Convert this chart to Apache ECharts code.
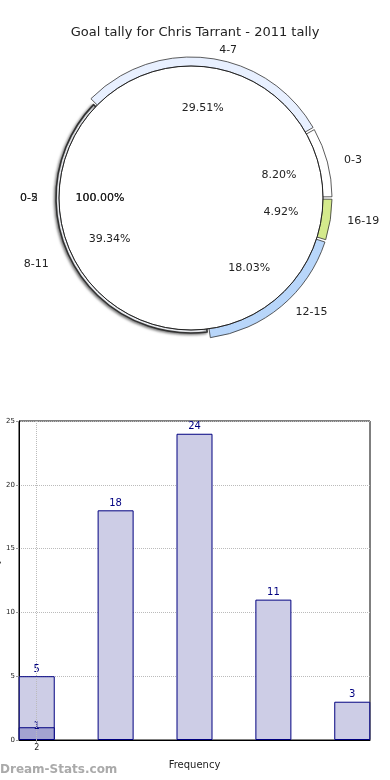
<!DOCTYPE html>
<html><head><meta charset="utf-8">
<script src="https://cdn.jsdelivr.net/npm/echarts@6/dist/echarts.min.js"></script>
<style>html,body{margin:0;padding:0;background:#fff}#c{width:390px;height:780px}</style>
</head><body><div id="c"></div>
<script>
var titleText = 'Goal tally for Chris Tarrant - 2011 tally';
var pieNames = ['0-3', '4-7', '8-11', '12-15', '16-19'];
var pieValues = [5, 18, 24, 11, 3];
var pieColors = ['#ffffff', '#e8f0ff', '#ffffff', '#b8d6fa', '#d4ea8c'];
var innerNamesA = ['0-5'];
var innerValuesA = [1];
var innerNamesB = ['0-2'];
var innerValuesB = [1];
var barX = [2, 6, 10, 14, 18];
var barValues = [5, 18, 24, 11, 3];
var overlayX = [2];
var overlayValues = [1];
var xTickLabels = [2];

var chart = echarts.init(document.getElementById('c'));
var C = ['191', '198'];
var FONT = 'DejaVu Sans';
var TRANSPARENT = 'rgba(0,0,0,0)';
function pieData(names, vals, colors) {
  return names.map(function (n, i) {
    var d = { name: n, value: vals[i] };
    if (colors) d.itemStyle = { color: colors[i] };
    return d;
  });
}
function pctLabel(names, vals, z) {
  return {
    type: 'pie', center: C, radius: [0, 176], startAngle: 0, clockwise: false,
    silent: true, z: z, avoidLabelOverlap: false, labelLayout: { hideOverlap: false },
    itemStyle: { color: TRANSPARENT, borderWidth: 0 },
    label: { show: true, position: 'inner', color: '#222', fontSize: 11, fontFamily: FONT,
      formatter: function (p) { return p.percent.toFixed(2) + '%'; } },
    labelLine: { show: false },
    emphasis: { disabled: true },
    data: pieData(names, vals)
  };
}
var outerData = pieData(pieNames, pieValues, pieColors);
outerData[2].itemStyle = { color: TRANSPARENT, borderWidth: 0 };
var leftData = pieData(pieNames, pieValues).map(function (d, i) {
  d.itemStyle = i === 2
    ? { color: '#f4f6fa', borderColor: '#333', borderWidth: 1.6,
        shadowColor: 'rgba(0,0,0,0.55)', shadowBlur: 3, shadowOffsetX: -1, shadowOffsetY: 1 }
    : { color: TRANSPARENT, borderWidth: 0 };
  return d;
});

chart.setOption({
  animation: false,
  title: { text: titleText, left: 'center', top: 21,
    textStyle: { fontSize: 13, fontWeight: 'normal', color: '#222', fontFamily: FONT } },
  grid: { left: 19, right: 20, top: 421, bottom: 40, show: true, borderColor: '#000', borderWidth: 1,
    containLabel: false, outerBoundsMode: 'none' },
  xAxis: {
    type: 'value', min: 1.1, max: 18.9,
    name: 'Frequency', nameLocation: 'middle', nameGap: 20, nameMoveOverlap: false,
    nameTextStyle: { fontSize: 10, color: '#222', fontFamily: FONT },
    axisLine: { show: true, lineStyle: { color: '#000' } },
    axisTick: { show: true, length: 3, customValues: xTickLabels, lineStyle: { color: '#999' } },
    axisLabel: { customValues: xTickLabels, fontSize: 8, color: '#222', margin: 4, fontFamily: FONT },
    splitLine: { show: false }
  },
  yAxis: {
    type: 'value', min: 0, max: 25, interval: 5,
    name: 'Goal Tally', nameLocation: 'middle', nameGap: 18, nameMoveOverlap: false,
    nameTextStyle: { fontSize: 9, color: '#222', fontFamily: FONT },
    axisLine: { show: true, lineStyle: { color: '#000' } },
    axisTick: { show: true, length: 3, lineStyle: { color: '#999' } },
    axisLabel: { fontSize: 7, color: '#222', margin: 4, fontFamily: FONT },
    splitLine: { show: true, lineStyle: { color: '#bbb', type: 'dotted', width: 1 } }
  },
  graphic: [{ type: 'text', left: 0, top: 764,
    style: { text: 'Dream-Stats.com', fontSize: 12, fontWeight: 'bold', fill: '#aaa', fontFamily: FONT } }],
  series: [
    {
      type: 'bar', data: barX.map(function (x, i) { return [x, barValues[i]]; }),
      barWidth: 36, barGap: '-100%',
      itemStyle: { color: '#cdcde6', borderColor: '#000080', borderWidth: 1 },
      label: { show: true, position: 'top', color: '#000080', fontSize: 10, distance: 2, fontFamily: FONT },
      markLine: { silent: true, symbol: 'none', label: { show: false },
        lineStyle: { color: '#bbb', type: 'dotted', width: 1 },
        data: [{ xAxis: xTickLabels[0] }] },
      z: 2
    },
    {
      type: 'bar', data: overlayX.map(function (x, i) { return [x, overlayValues[i]]; }),
      barWidth: 36, barGap: '-100%',
      itemStyle: { color: '#a3a3d1', borderColor: '#000080', borderWidth: 1 },
      label: { show: true, position: 'top', color: '#000080', fontSize: 10, distance: -4, fontFamily: FONT },
      z: 3
    },
    {
      type: 'pie', center: C, radius: [0, 141], startAngle: 0, clockwise: false,
      padAngle: 1, avoidLabelOverlap: false, silent: true, z: 2, labelLayout: { hideOverlap: false },
      itemStyle: { borderColor: '#333', borderWidth: 0.8 },
      label: { show: true, position: 'outside', color: '#222', fontSize: 11, fontFamily: FONT, formatter: '{b}' },
      labelLine: { show: false, length: 8, length2: 4 },
      emphasis: { disabled: true },
      data: outerData
    },
    {
      type: 'pie', center: C, radius: [0, 135], startAngle: 0, clockwise: false,
      padAngle: 1, avoidLabelOverlap: false, silent: true, z: 2,
      label: { show: false }, labelLine: { show: false },
      emphasis: { disabled: true },
      data: leftData
    },
    {
      type: 'pie', center: C, radius: [0, 132], startAngle: 0, clockwise: false,
      avoidLabelOverlap: false, silent: true, z: 3, labelLayout: { hideOverlap: false },
      itemStyle: { color: '#ffffff', borderColor: '#222', borderWidth: 1 },
      label: { show: true, position: 'outside', color: '#222', fontSize: 11, fontFamily: FONT, formatter: '{b}' },
      labelLine: { show: false, length: 8, length2: 8 },
      emphasis: { disabled: true },
      data: pieData(innerNamesA, innerValuesA)
    },
    {
      type: 'pie', center: C, radius: [0, 132], startAngle: 0, clockwise: false,
      avoidLabelOverlap: false, silent: true, z: 4, labelLayout: { hideOverlap: false },
      itemStyle: { color: TRANSPARENT, borderColor: '#222', borderWidth: 0.5 },
      label: { show: true, position: 'outside', color: '#222', fontSize: 11, fontFamily: FONT, formatter: '{b}' },
      labelLine: { show: false, length: 8, length2: 8 },
      emphasis: { disabled: true },
      data: pieData(innerNamesB, innerValuesB)
    },
    pctLabel(pieNames, pieValues, 5),
    pctLabel(innerNamesA, innerValuesA, 5),
    pctLabel(innerNamesB, innerValuesB, 5)
  ]
});
</script></body></html>
